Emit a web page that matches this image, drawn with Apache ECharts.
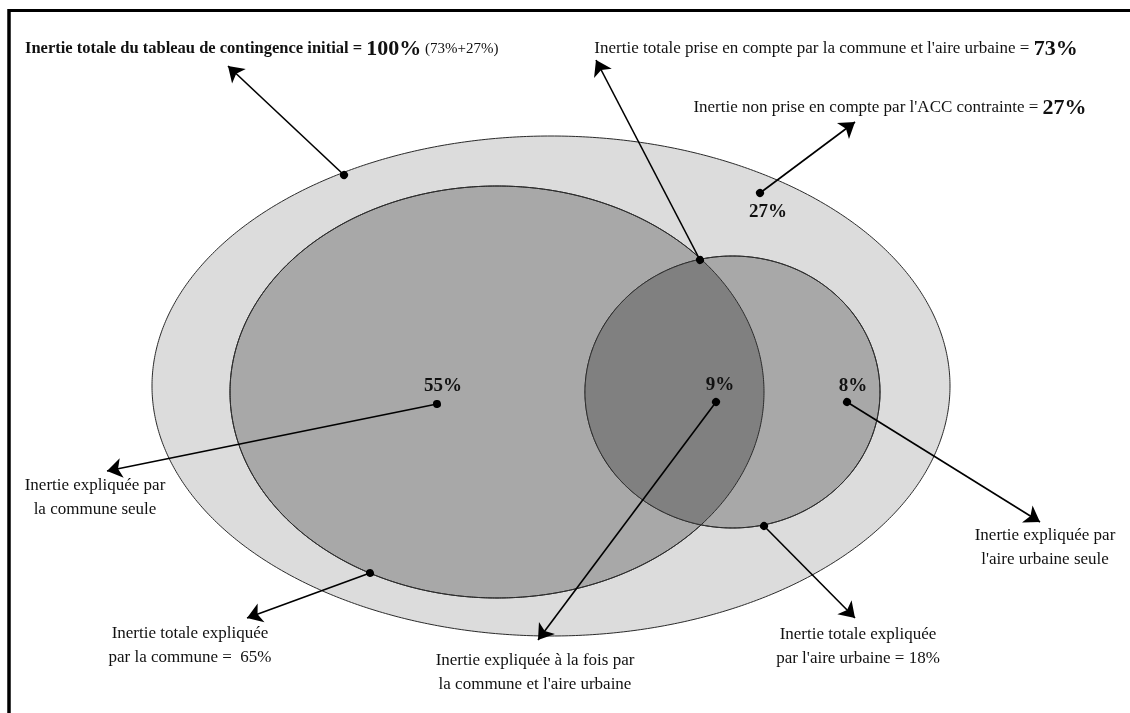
<!DOCTYPE html>
<html><head><meta charset="utf-8">
<script src="https://cdn.jsdelivr.net/npm/echarts@6/dist/echarts.min.js"></script>
<style>html,body{margin:0;padding:0;background:#fff}#c{width:1130px;height:713px}</style>
</head><body><div id="c"></div>
<script>
// ---- data (inertia shares, %) ----
const totalInertia = 100;
const explainedTotal = 73;
const unexplained = 27;
const communeOnly = 55;
const shared = 9;
const aireOnly = 8;
const communeTotal = 65;
const aireTotal = 18;

// region sets (ellipses)
const setNames = ['Inertie totale', 'Commune', 'Aire urbaine'];

// callout text lines
const calloutTexts = [
  ['{b|Inertie totale du tableau de contingence initial = }{bb|' + totalInertia + '%}{s| (73%+27%)}'],
  ['Inertie totale prise en compte par la commune et l\'aire urbaine = {bb|' + explainedTotal + '%}'],
  ['Inertie non prise en compte par l\'ACC contrainte = {bb|' + unexplained + '%}'],
  ['Inertie expliquée par', 'la commune seule'],
  ['Inertie totale expliquée', 'par la commune =  ' + communeTotal + '%'],
  ['Inertie expliquée à la fois par', 'la commune et l\'aire urbaine'],
  ['Inertie totale expliquée', 'par l\'aire urbaine = ' + aireTotal + '%'],
  ['Inertie expliquée par', 'l\'aire urbaine seule']
];
const regionValues = [unexplained, communeOnly, shared, aireOnly];

// ---- layout (diagram units on hidden axes) ----
const ellCx = [551, 497, 732.5], ellCy = [386, 392, 392], ellRx = [399, 267, 147.5], ellRy = [250, 206, 136];
const ellFill = ['#dcdcdc', '#a8a8a8', '#a8a8a8'];
const sharedFill = '#808080';
const regionLabelPos = [[768, 212], [443, 386], [720, 385], [853, 386]];
const calloutPos = [[25, 48, 'left'], [836, 48, 'center'], [890, 107, 'center'], [95, 485, 'center'], [190, 633, 'center'], [535, 660, 'center'], [858, 634, 'center'], [1045, 535, 'center']];
const arrowFrom = [[344, 175], [700, 260], [760, 193], [437, 404], [370, 573], [716, 402], [764, 526], [847, 402]];
const arrowTo = [[228, 66], [596, 60], [855, 122], [107, 471], [247, 618], [538, 640], [855, 618], [1040, 522]];

function ellipsePts(i, n) {
  const p = [];
  for (let k = 0; k < n; k++) {
    const a = 2 * Math.PI * k / n;
    p.push([ellCx[i] + ellRx[i] * Math.cos(a), ellCy[i] + ellRy[i] * Math.sin(a)]);
  }
  return p;
}
function inside(i, pt) {
  const dx = (pt[0] - ellCx[i]) / ellRx[i], dy = (pt[1] - ellCy[i]) / ellRy[i];
  return dx * dx + dy * dy <= 1;
}
function lensPts() {
  let pts = ellipsePts(1, 1440).filter(p => inside(2, p)).concat(ellipsePts(2, 1440).filter(p => inside(1, p)));
  let mx = 0, my = 0; pts.forEach(p => { mx += p[0]; my += p[1]; }); mx /= pts.length; my /= pts.length;
  pts.sort((a, b) => Math.atan2(a[1] - my, a[0] - mx) - Math.atan2(b[1] - my, b[0] - mx));
  return pts;
}

const FONT = '"Liberation Serif", "DejaVu Serif", serif';
const chart = echarts.init(document.getElementById('c'), null, {renderer: 'canvas'});

const option = {
  animation: false,
  backgroundColor: '#ffffff',
  grid: {left: 0, right: 0, top: 0, bottom: 0},
  xAxis: {type: 'value', min: 0, max: 1130, show: false},
  yAxis: {type: 'value', min: 0, max: 713, inverse: true, show: false},
  graphic: [
    {type: 'line', shape: {x1: 8, y1: 10.5, x2: 1130, y2: 10.5}, style: {stroke: '#000', lineWidth: 3}},
    {type: 'line', shape: {x1: 9, y1: 9, x2: 9, y2: 713}, style: {stroke: '#000', lineWidth: 3.5}}
  ],
  series: [
    {
      type: 'custom', coordinateSystem: 'cartesian2d', silent: true, z: 1,
      data: setNames.map((n, i) => [i]),
      renderItem: function (params, api) {
        const i = api.value(0);
        const pts = ellipsePts(i, 720).map(p => api.coord(p));
        return {type: 'polygon', shape: {points: pts}, style: {fill: ellFill[i], stroke: '#2a2a2a', lineWidth: 1}};
      }
    },
    {
      type: 'custom', coordinateSystem: 'cartesian2d', silent: true, z: 2,
      data: [[0]],
      renderItem: function (params, api) {
        const lens = lensPts().map(p => api.coord(p));
        const c1 = ellipsePts(1, 720).map(p => api.coord(p));
        const c2 = ellipsePts(2, 720).map(p => api.coord(p));
        return {type: 'group', children: [
          {type: 'polygon', shape: {points: lens}, style: {fill: sharedFill, stroke: null}},
          {type: 'polygon', shape: {points: c1}, style: {fill: null, stroke: '#2a2a2a', lineWidth: 1}},
          {type: 'polygon', shape: {points: c2}, style: {fill: null, stroke: '#2a2a2a', lineWidth: 1}}
        ]};
      }
    },
    {
      type: 'lines', coordinateSystem: 'cartesian2d', z: 5, silent: true,
      symbol: ['circle', 'arrow'], symbolSize: [8, 15],
      lineStyle: {color: '#000', width: 1.6, opacity: 1},
      data: arrowFrom.map((f, i) => ({coords: [f, arrowTo[i]]}))
    },
    {
      type: 'custom', coordinateSystem: 'cartesian2d', silent: true, z: 6,
      data: regionValues.map((v, i) => [i, v]),
      renderItem: function (params, api) {
        const i = api.value(0);
        const p = api.coord(regionLabelPos[i]);
        return {type: 'text', x: p[0], y: p[1], style: {text: api.value(1) + '%', font: 'bold 19px ' + FONT, fill: '#111', align: 'center', verticalAlign: 'middle'}};
      }
    },
    {
      type: 'custom', coordinateSystem: 'cartesian2d', silent: true, z: 6,
      data: calloutTexts.map((t, i) => [i]),
      renderItem: function (params, api) {
        const i = api.value(0);
        const pos = calloutPos[i];
        const p = api.coord([pos[0], pos[1]]);
        return {type: 'text', x: p[0], y: p[1] - 11, style: {
          text: calloutTexts[i].join('\n'),
          font: '17px ' + FONT, fill: '#111', align: pos[2], verticalAlign: 'top', lineHeight: 24,
          rich: {
            b: {fontFamily: FONT, fontWeight: 'bold', fontSize: 16.5, fill: '#111'},
            bb: {fontFamily: FONT, fontWeight: 'bold', fontSize: 22, fill: '#111'},
            s: {fontFamily: FONT, fontSize: 15, fill: '#111'}
          }
        }};
      }
    }
  ]
};
chart.setOption(option);
</script></body></html>
